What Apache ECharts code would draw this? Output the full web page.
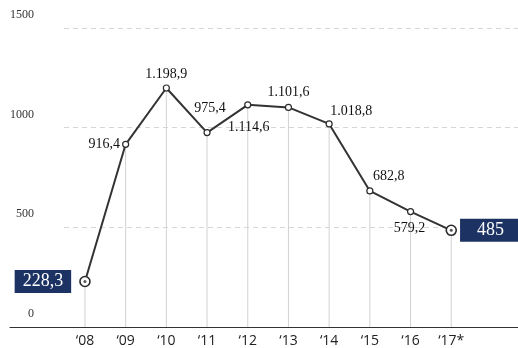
<!DOCTYPE html>
<html>
<head>
<meta charset="utf-8">
<script src="https://cdn.jsdelivr.net/npm/echarts@6/dist/echarts.min.js"></script>
<style>
  html, body { margin: 0; padding: 0; background: #fff; }
  #chart { width: 518px; height: 348px; }
</style>
</head>
<body>
<div id="chart"></div>
<script>
// Years on the horizontal axis
var years = ['\u201808', '\u201809', '\u201810', '\u201811', '\u201812', '\u201813', '\u201814', '\u201815', '\u201816', '\u201817*'];
// Yearly values
var values = [228.3, 916.4, 1198.9, 975.4, 1114.6, 1101.6, 1018.8, 682.8, 579.2, 485];
// Vertical scale
var yTicks = [0, 500, 1000, 1500];

// German-style number text: 1.198,9
function fmt(v) {
  var parts = String(v).split('.');
  var intPart = parts[0].replace(/\B(?=(\d{3})+(?!\d))/g, '.');
  return parts.length > 1 ? intPart + ',' + parts[1] : intPart;
}

var serif = '"Liberation Serif", "DejaVu Serif", serif';
var navy = '#1c3263';

var plainLabel = { show: true, fontFamily: serif, fontSize: 14, color: '#111111' };
var boxLabel = {
  show: true, fontFamily: serif, fontSize: 18, lineHeight: 18, color: '#ffffff',
  backgroundColor: navy
};

// label placement per point
var labelPlacement = [
  Object.assign({}, boxLabel, { position: 'left', distance: 8, padding: [3, 8, 2, 8] }),
  Object.assign({}, plainLabel, { position: 'left', distance: 2 }),
  Object.assign({}, plainLabel, { position: 'top', distance: 3 }),
  Object.assign({}, plainLabel, { position: 'top', distance: 14, offset: [3, 0] }),
  Object.assign({}, plainLabel, { position: 'bottom', distance: 12, offset: [1, 0] }),
  Object.assign({}, plainLabel, { position: 'top', distance: 4 }),
  Object.assign({}, plainLabel, { position: 'top', distance: 2, offset: [22, 0] }),
  Object.assign({}, plainLabel, { position: 'top', distance: 4, offset: [19, 0] }),
  Object.assign({}, plainLabel, { position: 'bottom', distance: 6, offset: [-1, 0] }),
  Object.assign({}, boxLabel, { position: 'right', distance: 3, padding: [3, 17, 2, 17] })
];

var last = values.length - 1;
var lineData = values.map(function (v, i) {
  var end = (i === 0 || i === last);
  return {
    value: v,
    symbolSize: end ? 10 : 6,
    itemStyle: { color: '#ffffff', borderColor: '#2b2b2b', borderWidth: end ? 1.6 : 1.2 },
    label: Object.assign({ formatter: fmt(v) }, labelPlacement[i])
  };
});

var yMin = yTicks[0], yMax = yTicks[yTicks.length - 1], yStep = yTicks[1] - yTicks[0];

var chart = echarts.init(document.getElementById('chart'), null, { renderer: 'canvas' });
chart.setOption({
  animation: false,
  backgroundColor: '#ffffff',
  grid: [
    // data area
    { left: 64.6, width: 407, top: 28, bottom: 21 },
    // gridlines and value labels
    { left: 64, right: 0, top: 28, bottom: 21 },
    // baseline
    { left: 10, right: 0, top: 28, bottom: 21 }
  ],
  xAxis: [
    {
      gridIndex: 0, type: 'category', data: years, boundaryGap: true,
      axisLine: { show: false }, axisTick: { show: false },
      axisLabel: { margin: 7, fontFamily: '"Open Sans", "Liberation Sans", sans-serif', fontSize: 14, color: '#222' },
      splitLine: { show: false }
    },
    { gridIndex: 1, type: 'value', show: false },
    {
      gridIndex: 2, type: 'value', min: 0, max: 1,
      axisLine: { show: true, lineStyle: { color: '#333', width: 1.2 } },
      axisTick: { show: false }, axisLabel: { show: false }, splitLine: { show: false }
    }
  ],
  yAxis: [
    { gridIndex: 0, type: 'value', min: yMin, max: yMax, interval: yStep, show: false },
    {
      gridIndex: 1, type: 'value', min: yMin, max: yMax, interval: yStep,
      axisLine: { show: false }, axisTick: { show: false },
      axisLabel: {
        margin: 30, fontFamily: serif, fontSize: 12, color: '#333',
        verticalAlign: 'bottom', padding: [0, 0, 7, 0],
        formatter: function (v) { return String(v); }
      },
      splitLine: { show: true, lineStyle: { color: '#d6d6d6', type: [5, 4], width: 1 } }
    },
    { gridIndex: 2, type: 'value', min: yMin, max: yMax, show: false }
  ],
  series: [
    {
      // drop lines from each point to the baseline
      type: 'bar', xAxisIndex: 0, yAxisIndex: 0,
      data: values, barWidth: 1, silent: true, z: 1,
      itemStyle: { color: '#d2d2d2' }
    },
    {
      type: 'line', xAxisIndex: 0, yAxisIndex: 0,
      data: lineData, symbol: 'circle', z: 3,
      lineStyle: { color: '#333333', width: 2 }
    },
    {
      // centre dots of the first and last markers
      type: 'scatter', xAxisIndex: 0, yAxisIndex: 0, z: 4, silent: true,
      symbol: 'circle', symbolSize: 3,
      itemStyle: { color: '#2b2b2b' },
      data: [[0, values[0]], [last, values[last]]]
    }
  ]
});
</script>
</body>
</html>
